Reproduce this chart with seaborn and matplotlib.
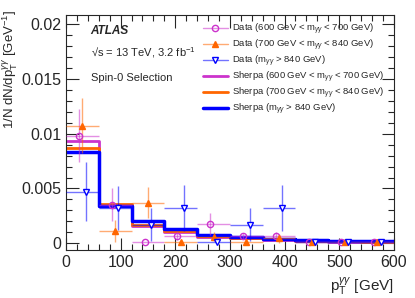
"""
pT(gamma gamma) distributions, spin-0 selection: data vs Sherpa in three m_yy windows
"""

import numpy as np
import pandas as pd
import matplotlib
matplotlib.use("Agg")
import matplotlib.pyplot as plt
from matplotlib.ticker import MultipleLocator
import seaborn as sns

# bin edges (GeV)
bin_edges = [0, 60, 120, 180, 240, 300, 360, 420, 480, 540, 600]
bin_centers = [30, 90, 150, 210, 270, 330, 390, 450, 510, 570]

# Sherpa predictions per window
sherpa_600_700 = [0.0093, 0.0034, 0.0016, 0.0010, 0.0006, 0.00045, 0.00035, 0.0002, 0.00015, 0.0001]
sherpa_700_840 = [0.0087, 0.0036, 0.0017, 0.0011, 0.0007, 0.0005, 0.0004, 0.00025, 0.0002, 0.00015]
sherpa_840 = [0.0083, 0.0034, 0.0020, 0.00127, 0.00075, 0.00055, 0.00043, 0.0003, 0.00025, 0.0002]

# data per window
data_600_700 = [0.0098, 0.0035, 0.0001, 0.00067, 0.0018, 0.00067, 0.0007, 0.0001, 0.0001, 0.0001]
err_600_700 = [0.0024, 0.0015, 0.0, 0.0004, 0.001, 0.0003, 0.0003, 0.0, 0.0, 0.0]
data_700_840 = [0.0107, 0.0011, 0.0037, 0.0001, 0.0006, 0.0001, 0.00045, 0.0001, 0.0001, 0.0001]
err_700_840 = [0.0025, 0.001, 0.0014, 0.0, 0.0004, 0.0, 0.0004, 0.0, 0.0, 0.0]
data_840 = [0.0047, 0.0032, 0.0017, 0.0032, 0.0001, 0.0017, 0.0032, 0.0001, 0.0001, 0.0001]
err_840 = [0.0027, 0.002, 0.0015, 0.0021, 0.0, 0.0015, 0.0021, 0.0, 0.0, 0.0]

labels_data = ["Data (600 GeV < m$_{\\gamma\\gamma}$ < 700 GeV)",
               "Data (700 GeV < m$_{\\gamma\\gamma}$ < 840 GeV)",
               "Data (m$_{\\gamma\\gamma}$ > 840 GeV)"]
labels_mc = ["Sherpa (600 GeV < m$_{\\gamma\\gamma}$ < 700 GeV)",
             "Sherpa (700 GeV < m$_{\\gamma\\gamma}$ < 840 GeV)",
             "Sherpa (m$_{\\gamma\\gamma}$ > 840 GeV)"]

magenta = "#cc33cc"
orange = "#ff6600"
blue = "#0000ff"

sns.set_style("ticks")
plt.rcParams['font.family'] = ['Liberation Sans', 'DejaVu Sans']
plt.rcParams['mathtext.fontset'] = 'custom'
plt.rcParams['mathtext.rm'] = 'Liberation Sans'
plt.rcParams['mathtext.it'] = 'Liberation Sans:italic'

fig = plt.figure(figsize=(4.15, 2.98), dpi=100)
ax = fig.add_axes([0.159, 0.161, 0.790, 0.789])

mc = pd.DataFrame({
    "pt": bin_centers * 3,
    "w": sherpa_600_700 + sherpa_700_840 + sherpa_840,
    "sample": ["a"] * 10 + ["b"] * 10 + ["c"] * 10,
})

# data points, slightly shifted inside each bin
data_sets = [
    (data_600_700, err_600_700, -6, magenta, "o", "none", 4.5, labels_data[0]),
    (data_700_840, err_700_840, 0, orange, "^", orange, 4.5, labels_data[1]),
    (data_840, err_840, 6, blue, "v", "white", 5, labels_data[2]),
]
data_handles = []
for vals, errs, shift, col, mk, fc, ms, lab in data_sets:
    xs = np.array(bin_centers) + shift
    # horizontal bars cover the bin
    xerr = [np.array(bin_centers) - np.array(bin_edges[:-1]) + shift,
            np.array(bin_edges[1:]) - np.array(bin_centers) - shift]
    faint = matplotlib.colors.to_rgba(col, 0.55)
    ax.errorbar(xs, vals, yerr=errs, xerr=xerr, fmt=mk, color=col,
                mfc=fc, mec=col, ms=ms, mew=1.0, elinewidth=1.0,
                ecolor=faint, capsize=0, zorder=3)
    data_handles.append(plt.Line2D([], [], color=faint, lw=1.0, marker=mk,
                                   mfc=fc, mec=col, ms=ms, mew=1.0, label=lab))

mc_handles = []
for key, col, lw, lab in [("a", magenta, 2.0, labels_mc[0]),
                          ("b", orange, 2.0, labels_mc[1]),
                          ("c", blue, 2.5, labels_mc[2])]:
    sub = mc[mc["sample"] == key]
    sns.histplot(data=sub, x="pt", weights="w", bins=bin_edges, element="step",
                 fill=False, color=col, linewidth=lw, ax=ax, zorder=2)
    mc_handles.append(plt.Line2D([], [], color=col, lw=lw, label=lab))

ax.set_xlim(0, 600)
ax.set_ylim(-0.0006, 0.0208)
ax.set_yticks([0, 0.005, 0.01, 0.015, 0.02])
ax.set_yticklabels(["0", "0.005", "0.01", "0.015", "0.02"])
ax.xaxis.set_major_locator(MultipleLocator(100))
ax.xaxis.set_minor_locator(MultipleLocator(20))
ax.yaxis.set_minor_locator(MultipleLocator(0.001))
ax.tick_params(which="both", direction="in", top=True, right=True, labelsize=11.5)
ax.tick_params(which="major", length=9, width=0.8)
ax.tick_params(which="minor", length=4.5, width=0.8)
for s in ax.spines.values():
    s.set_linewidth(0.8)

ax.set_xlabel("p$_{\\mathrm{T}}^{\\gamma\\gamma}$ [GeV]", fontsize=11, loc="right")
ax.set_ylabel("1/N dN/dp$_{\\mathrm{T}}^{\\gamma\\gamma}$ [GeV$^{-1}$]", fontsize=9.5, loc="top")
ax.yaxis.set_label_coords(-0.14, 1.02)

ax.text(0.075, 0.92, "ATLAS", transform=ax.transAxes, fontsize=8.5,
        fontweight="bold", fontstyle="italic")
ax.text(0.075, 0.825, "\u221as = 13 TeV, 3.2 fb$^{-1}$", transform=ax.transAxes, fontsize=8)
ax.text(0.075, 0.72, "Spin-0 Selection", transform=ax.transAxes, fontsize=8)

ax.legend(handles=data_handles + mc_handles, loc="upper right",
          bbox_to_anchor=(0.99, 0.995), frameon=False, fontsize=6.8,
          handlelength=2.6, handletextpad=0.5, labelspacing=0.1,
          borderaxespad=0.2)

fig.savefig("out.png", dpi=100)
